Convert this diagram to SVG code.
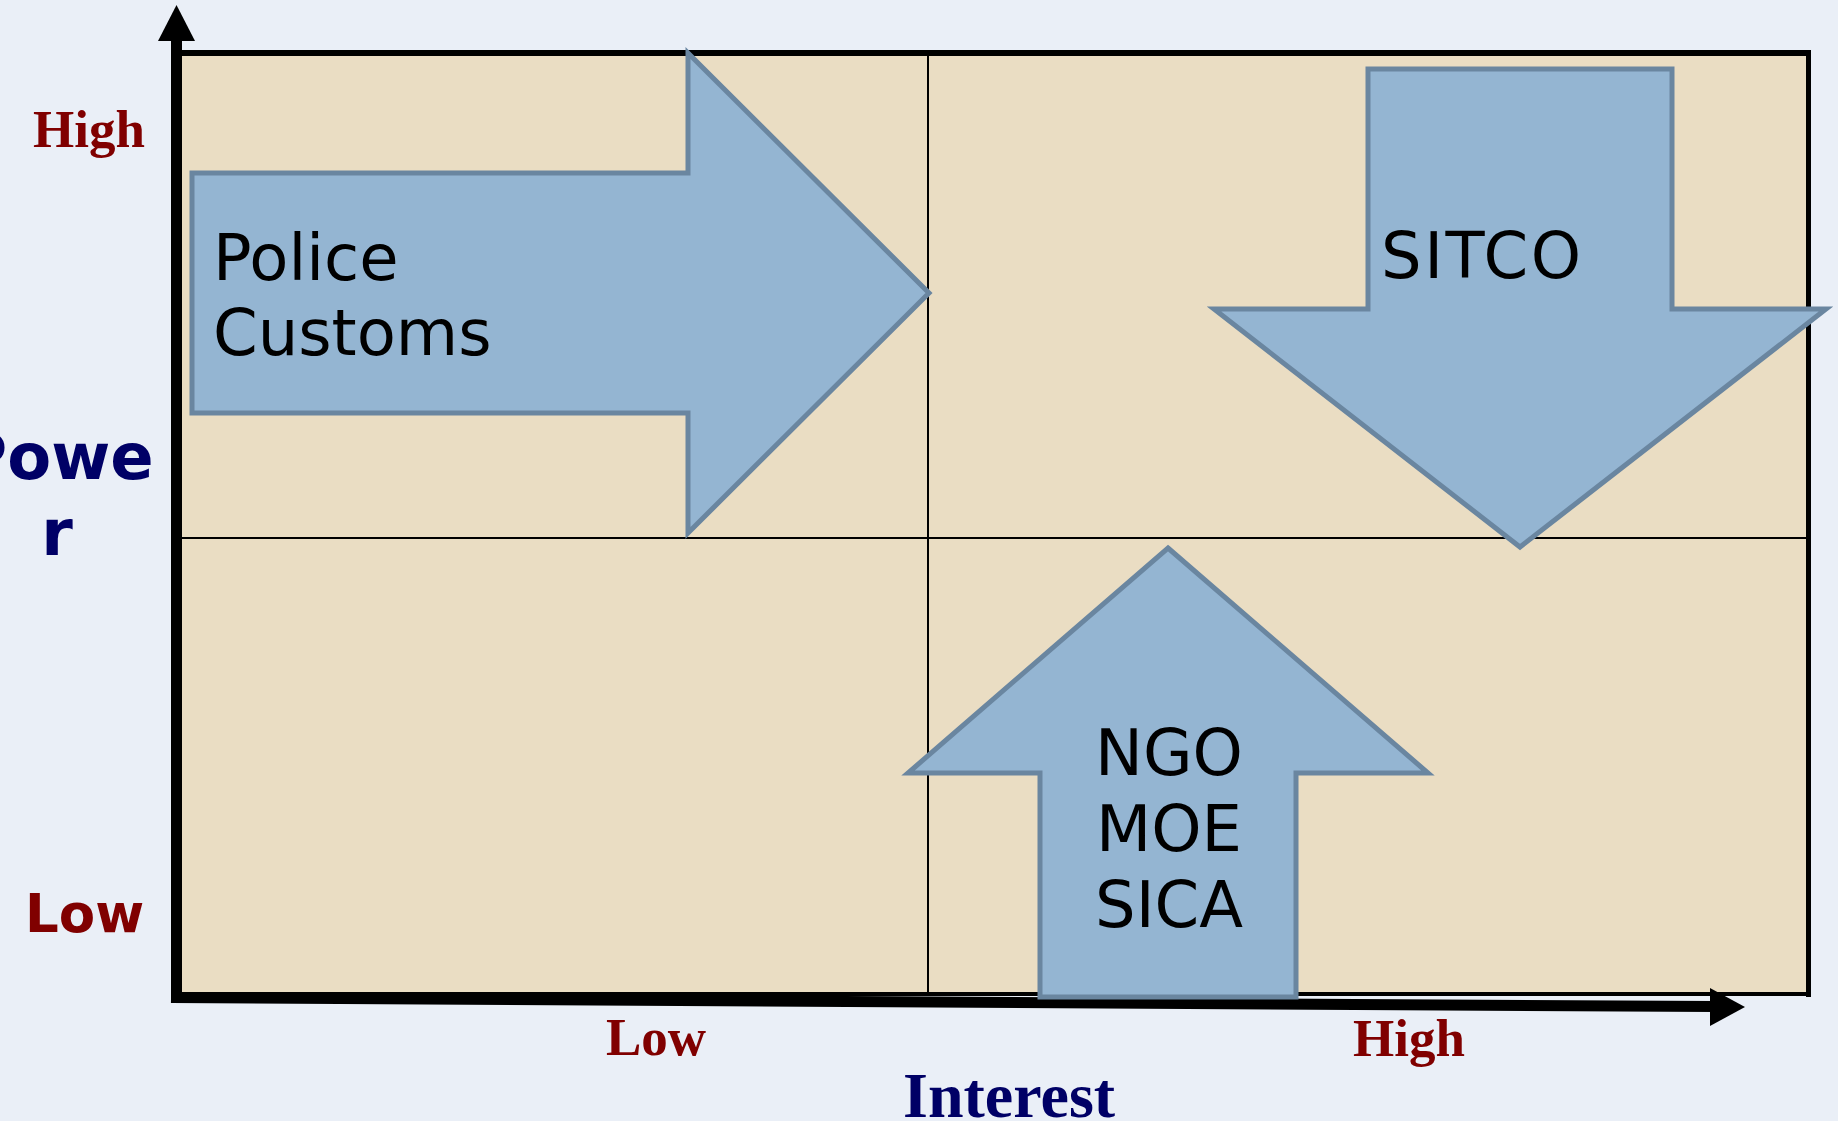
<svg xmlns="http://www.w3.org/2000/svg" width="1838" height="1121" viewBox="0 0 1838 1121">
<style>
.bg{fill:#EAEFF7}
.box{fill:#EADDC3}
.grid{stroke:#000;stroke-width:2;fill:none}
.border{stroke:#000;fill:none}
.axis{stroke:#000;stroke-width:11;fill:none}
.head{fill:#000}
.arrow{fill:#94B5D2;stroke:#6A86A0;stroke-width:5;stroke-linejoin:miter}
.lbl{font-family:"DejaVu Sans",Verdana,sans-serif;font-size:64px;fill:#000}
.tick{font-family:"Liberation Serif","Times New Roman",serif;font-weight:bold;font-size:53px;fill:#800000}
.tickS{font-family:"DejaVu Sans",Verdana,sans-serif;font-weight:bold;font-size:53px;fill:#800000}
.title{font-weight:bold;fill:#000066}
</style>
<rect class="bg" x="0" y="0" width="1838" height="1121"/>
<g id="chart">
  <rect class="box" x="176" y="53" width="1633" height="942"/>
  <line class="grid" x1="928" y1="53" x2="928" y2="995"/>
  <line class="grid" x1="176" y1="538" x2="1809" y2="538"/>
  <line class="border" stroke-width="6" x1="176" y1="53" x2="1811" y2="53"/>
  <line class="border" stroke-width="5" x1="1808.5" y1="50" x2="1808.5" y2="997"/>
  <line class="border" stroke-width="4" x1="176" y1="994" x2="1811" y2="994"/>
</g>
<g id="connectors">
  <line class="axis" x1="176.5" y1="1003" x2="176.5" y2="38"/>
  <polygon class="head" points="158,41 176.5,5 195,41"/>
  <line class="axis" x1="171" y1="997.5" x2="1715" y2="1006.5"/>
  <polygon class="head" points="1710,988 1745,1007 1710,1026"/>
</g>
<g id="police">
  <polygon class="arrow" points="192,173 688,173 688,53 929,293 688,533 688,413 192,413"/>
  <text class="lbl" x="213" y="280">Police</text>
  <text class="lbl" x="213" y="355">Customs</text>
</g>
<g id="sitco">
  <polygon class="arrow" points="1368,69 1672,69 1672,309 1826,309 1520,547 1214,309 1368,309"/>
  <text class="lbl" x="1381" y="278" textLength="200" lengthAdjust="spacing">SITCO</text>
</g>
<g id="ngo">
  <polygon class="arrow" points="1168,548 1428,773 1296,773 1296,997 1040,997 1040,773 908,773"/>
  <text class="lbl" x="1169" y="775" text-anchor="middle">NGO</text>
  <text class="lbl" x="1169" y="851" text-anchor="middle">MOE</text>
  <text class="lbl" x="1169" y="927" text-anchor="middle">SICA</text>
</g>
<g id="labels">
  <text class="tick" x="33" y="147">High</text>
  <text class="tickS" x="25" y="932">Low</text>
  <text class="tick" x="606" y="1055">Low</text>
  <text class="tick" x="1353" y="1056">High</text>
  <text class="title" x="57" y="479" text-anchor="middle" font-family="DejaVu Sans, Verdana, sans-serif" font-size="64">Powe</text>
  <text class="title" x="57" y="555" text-anchor="middle" font-family="DejaVu Sans, Verdana, sans-serif" font-size="64">r</text>
  <text class="title" x="903" y="1117" font-family="Liberation Serif, Times New Roman, serif" font-size="64">Interest</text>
</g>
</svg>
